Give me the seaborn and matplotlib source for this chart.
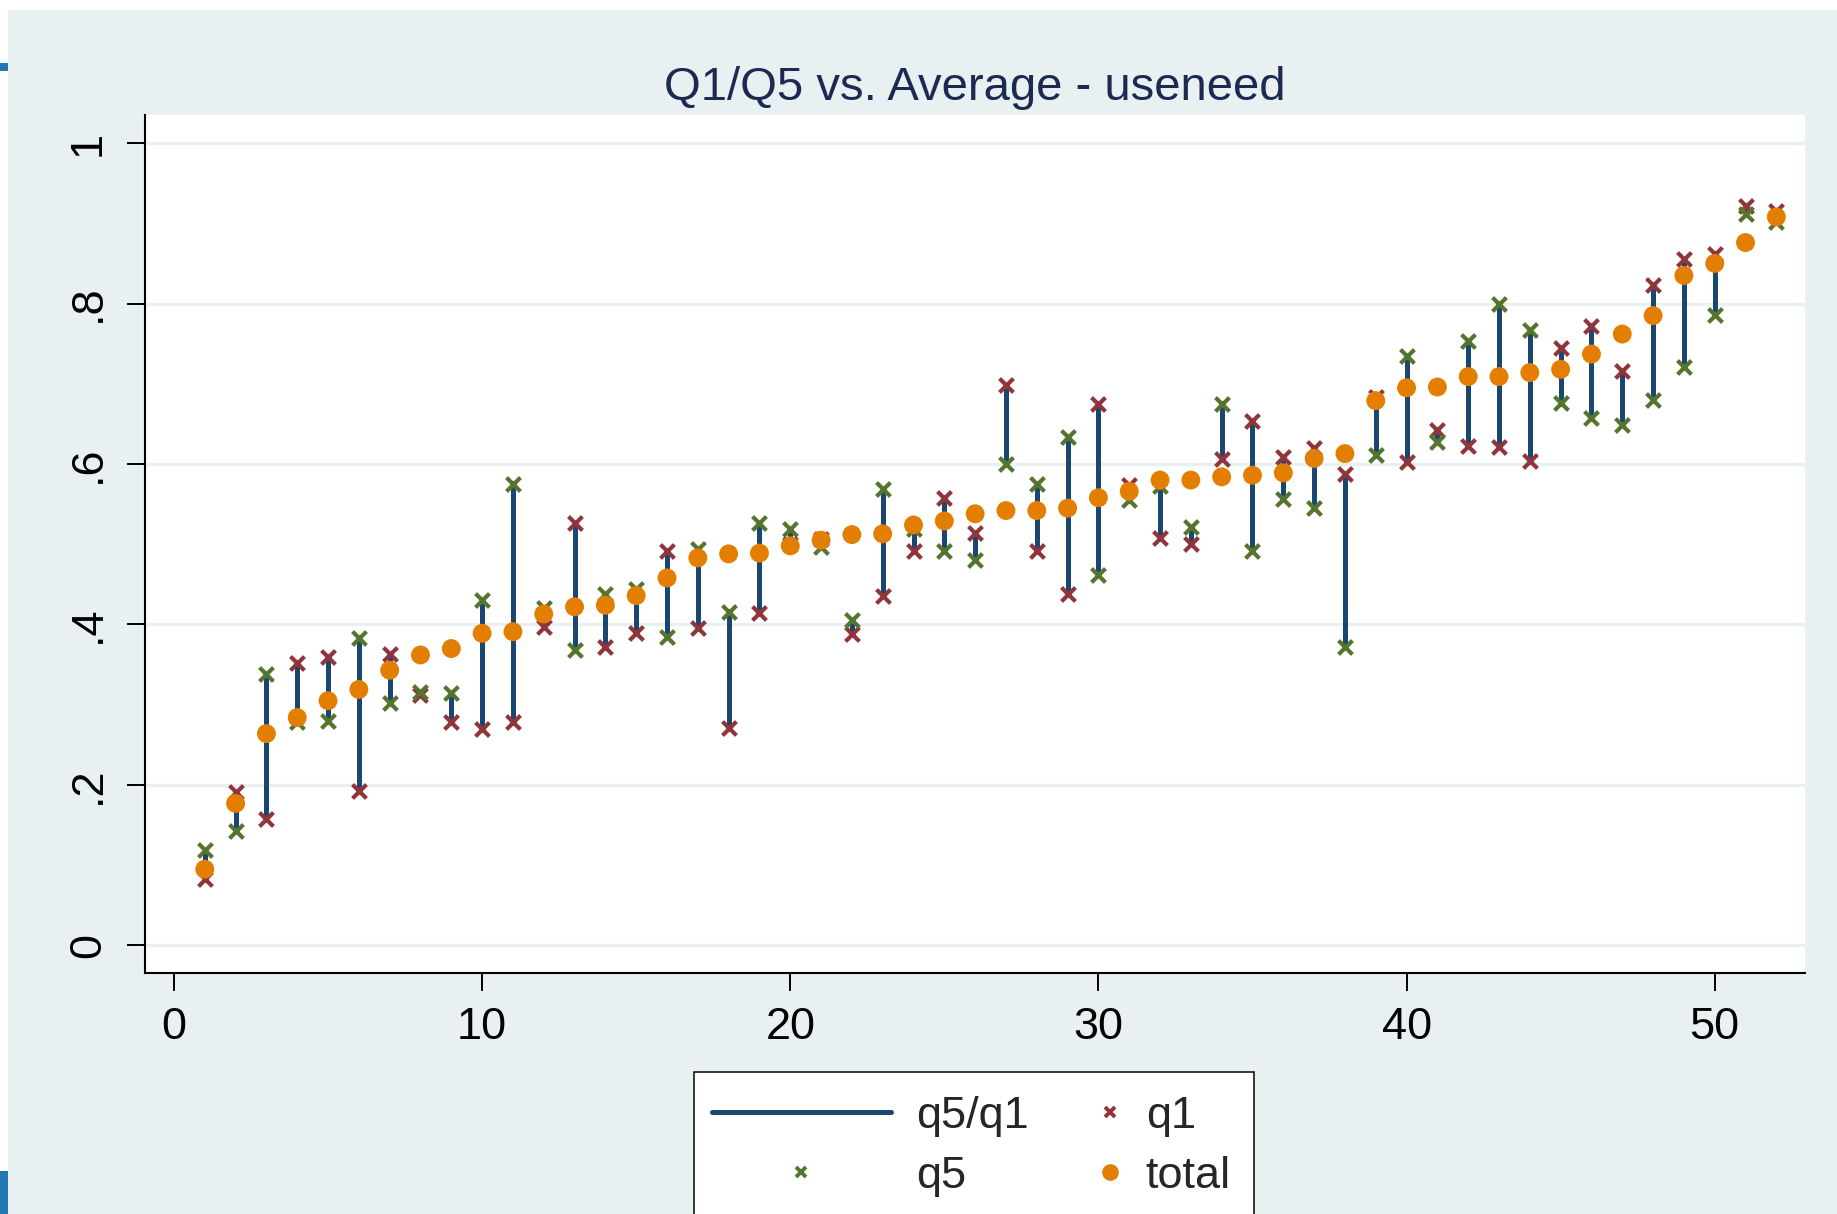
import numpy as np
import pandas as pd
import matplotlib
matplotlib.use("Agg")
import matplotlib.pyplot as plt
from matplotlib.patches import Rectangle
from matplotlib.lines import Line2D
from matplotlib.legend_handler import HandlerLine2D
import seaborn as sns

# ---- data -------------------------------------------------------------
idx = list(range(1, 53))

q1 = [0.083, 0.191, 0.158, 0.352, 0.359, 0.192, 0.363, 0.312, 0.278, 0.270,
      0.278, 0.397, 0.526, 0.372, 0.390, 0.492, 0.395, 0.271, 0.414, 0.500,
      0.507, 0.388, 0.435, 0.491, 0.558, 0.514, 0.698, 0.491, 0.438, 0.675,
      0.574, 0.508, 0.500, 0.606, 0.654, 0.609, 0.620, 0.588, 0.684, 0.603,
      0.643, 0.623, 0.621, 0.604, 0.745, 0.772, 0.716, 0.823, 0.855, 0.862,
      0.922, 0.915]

q5 = [0.119, 0.143, 0.338, 0.278, 0.280, 0.383, 0.302, 0.316, 0.315, 0.431,
      0.575, 0.421, 0.368, 0.438, 0.444, 0.384, 0.494, 0.415, 0.527, 0.519,
      0.497, 0.405, 0.569, 0.519, 0.491, 0.480, 0.600, 0.575, 0.634, 0.462,
      0.555, 0.573, 0.522, 0.675, 0.492, 0.557, 0.545, 0.372, 0.611, 0.735,
      0.628, 0.753, 0.800, 0.767, 0.676, 0.657, 0.649, 0.680, 0.721, 0.786,
      0.911, 0.902]

total = [0.095, 0.177, 0.264, 0.284, 0.305, 0.319, 0.343, 0.362, 0.370, 0.389,
         0.391, 0.413, 0.422, 0.424, 0.436, 0.458, 0.483, 0.488, 0.489, 0.498,
         0.505, 0.512, 0.513, 0.524, 0.529, 0.538, 0.542, 0.542, 0.545, 0.558,
         0.566, 0.580, 0.580, 0.584, 0.586, 0.589, 0.607, 0.613, 0.679, 0.695,
         0.696, 0.709, 0.709, 0.714, 0.718, 0.737, 0.762, 0.785, 0.835, 0.850,
         0.876, 0.908]

x_ticks = [0, 10, 20, 30, 40, 50]
x_tick_labels = ["0", "10", "20", "30", "40", "50"]
y_ticks = [0, 0.2, 0.4, 0.6, 0.8, 1.0]
y_tick_labels = ["0", ".2", ".4", ".6", ".8", "1"]
title = "Q1/Q5 vs. Average - useneed"
legend_labels = ["q5/q1", "q5", "q1", "total"]

# ---- styling ----------------------------------------------------------
NAVY = "#1a476f"
MAROON = "#90353b"
GREEN = "#55752f"
ORANGE = "#e37e00"
BG = "#e8f0f2"
GRID = "#e8f0f2"
TITLE_C = "#1c2a52"
EDGE_BLUE = "#1f78b4"
FS = 32.5

sns.set_theme(style="ticks")
plt.rcParams["font.family"] = ["Liberation Sans", "DejaVu Sans"]

W, H = 1837, 1214
fig = plt.figure(figsize=(W / 100, H / 100), dpi=100, facecolor="white")


def px_rect(x0, y0, x1, y1, **kw):
    """Rectangle given in figure pixel coordinates measured from the top-left."""
    return Rectangle((x0 / W, 1 - y1 / H), (x1 - x0) / W, (y1 - y0) / H,
                     transform=fig.transFigure, **kw)


# graph region background and the two small side marks
fig.patches.append(px_rect(8, 10, W + 5, H + 5, facecolor=BG, edgecolor="none", zorder=-10))
fig.patches.append(px_rect(0, 63, 8, 71, facecolor=EDGE_BLUE, edgecolor="none", zorder=-9))
fig.patches.append(px_rect(0, 1171, 8, H + 5, facecolor=EDGE_BLUE, edgecolor="none", zorder=-9))

ax = fig.add_axes([145 / W, 1 - 972.7 / H, (1805 - 145) / W, (972.7 - 115) / H])
ax.set_facecolor("white")

df = pd.DataFrame({"idx": idx, "q1": q1, "q5": q5, "total": total})

# range spikes between the two quintiles
ax.vlines(df["idx"], df["q1"], df["q5"], color=NAVY, lw=3.6, zorder=2)

sns.scatterplot(data=df, x="idx", y="q1", marker="x", color=MAROON, s=100,
                linewidth=3.0, ax=ax, zorder=3, legend=False)
sns.scatterplot(data=df, x="idx", y="q5", marker="x", color=GREEN, s=100,
                linewidth=3.0, ax=ax, zorder=4, legend=False)
sns.scatterplot(data=df, x="idx", y="total", marker="o", color=ORANGE, s=185,
                edgecolor="none", ax=ax, zorder=5, legend=False)

ax.set_xlim(-0.94, 52.93)
ax.set_ylim(-0.034, 1.035)
ax.set_xticks(x_ticks)
ax.set_xticklabels(x_tick_labels)
ax.set_yticks(y_ticks)
ax.set_yticklabels(y_tick_labels, rotation=90, va="center", ha="right")
ax.set_xlabel("")
ax.set_ylabel("")

ax.yaxis.grid(True, color=GRID, lw=2.4)
ax.xaxis.grid(False)
ax.set_axisbelow(True)

for s in ("top", "right"):
    ax.spines[s].set_visible(False)
for s in ("left", "bottom"):
    ax.spines[s].set_color("black")
    ax.spines[s].set_linewidth(1.5)

ax.tick_params(axis="both", direction="out", length=13, width=1.4, color="black",
               labelsize=FS, labelcolor="black", left=True, bottom=True)
ax.tick_params(axis="x", pad=12)
ax.tick_params(axis="y", pad=13)

fig.text(975 / W, 1 - 100 / H, title, ha="center", va="baseline",
         fontsize=34, color=TITLE_C)


# legend: marker-only keys in the second column sit next to their label
class RightMarker(HandlerLine2D):
    def get_xdata(self, legend, xdescent, ydescent, width, height, fontsize):
        xm = -xdescent + width - 0.24 * fontsize
        return [xm - 0.5, xm + 0.5], [xm]


h_line = Line2D([], [], color=NAVY, lw=3.6)
h_q5 = Line2D([], [], ls="none", marker="x", color=GREEN, ms=7.5, mew=2.8)
h_q1 = Line2D([], [], ls="none", marker="x", color=MAROON, ms=7.5, mew=2.8)
h_tot = Line2D([], [], ls="none", marker="o", color=ORANGE, ms=12, mec="none")

# legend box (bottom edge runs past the canvas)
fig.patches.append(px_rect(694, 1071.7, 1254, H + 20, facecolor="white",
                           edgecolor="black", linewidth=1.1, zorder=5))

leg = fig.legend([h_line, h_q5, h_q1, h_tot], legend_labels, ncol=2,
                 loc="upper left", bbox_to_anchor=(712 / W, 1 - 1096 / H),
                 bbox_transform=fig.transFigure, borderaxespad=0, borderpad=0,
                 fontsize=FS, handlelength=3.96, handletextpad=0.56,
                 columnspacing=-1.93, labelspacing=0.42, frameon=False,
                 handler_map={h_q1: RightMarker(), h_tot: RightMarker()})
leg.set_zorder(6)

fig.savefig("out.png", dpi=100, facecolor=fig.get_facecolor())
